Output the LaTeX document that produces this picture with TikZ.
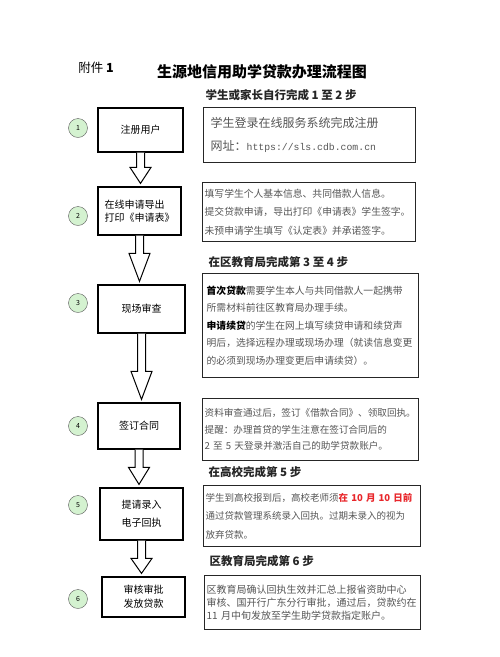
\documentclass[tikz,border=0pt]{standalone}
\usepackage{fontspec}
\setmainfont{Noto Sans CJK SC}
\newfontfamily\urlfont{Liberation Mono}
\usetikzlibrary{calc, positioning}
\definecolor{notegray}{HTML}{555555}
\definecolor{numgreen}{HTML}{D4F2D0}
\definecolor{hlred}{HTML}{E8262B}

\begin{document}
\begin{tikzpicture}[
    x=1pt, y=-1pt, % coordinates in pixels, y going down
    stepbox/.style={
      rectangle,
      draw=black,
      line width=1.2pt,
      align=center,
      inner sep=2pt,
      font=\fontsize{10}{13}\selectfont
    },
    note/.style={
      rectangle,
      draw=black!85,
      line width=1.3pt,
      anchor=north west,
      align=left,
      inner xsep=2pt,
      inner ysep=0pt,
      text=notegray,
      font=\fontsize{9.8}{18.5}\selectfont
    },
    num/.style={
      circle,
      draw=black!65,
      fill=numgreen,
      minimum size=19pt,
      inner sep=0pt,
      font=\fontsize{7}{7}\selectfont
    },
    stage/.style={
      anchor=west,
      text=black!85,
      font=\fontsize{11.5}{12}\selectfont\bfseries
    },
    bigarrow/.style={
      fill=white,
      draw=black,
      line width=1pt,
      to path={let \p1=(\tikztostart), \p2=(\tikztotarget) in
        (\x1-4pt,\y1) -- (\x1-4pt,\y2+3pt+#1) -- (\x1-10.5pt,\y2+3pt+#1)
        -- (\x1,\y2+3pt) -- (\x1+10.5pt,\y2+3pt+#1) -- (\x1+4pt,\y2+3pt+#1)
        -- (\x1+4pt,\y1)}
    },
    bigarrow/.default=16pt
  ]

  \path[use as bounding box] (0,0) rectangle (500,657);

  % Title
  \node[font=\fontsize{12.5}{13}\selectfont] (annex) at (96,68) {附件 \textbf{1}};
  \node[font=\fontsize{15}{16}\selectfont\bfseries] (title) at (262,72) {生源地信用助学贷款办理流程图};

  % Step boxes - left column
  \node[stepbox, minimum width=85pt, minimum height=44pt] (reg) at (140.5,130) {注册用户};
  \node[stepbox, align=left, minimum width=83pt, minimum height=48pt] (apply) at (139.5,211) {在线申请导出\\打印《申请表》};
  \node[stepbox, minimum width=87pt, minimum height=48pt] (check) at (141.5,309) {现场审查};
  \node[stepbox, minimum width=82pt, minimum height=46pt] (sign) at (139,426) {签订合同};
  \node[stepbox, font=\fontsize{10}{18}\selectfont, minimum width=83pt, minimum height=52pt] (receipt) at (141.5,514) {提请录入\\电子回执};
  \node[stepbox, font=\fontsize{10}{14}\selectfont, minimum width=83pt, minimum height=40pt] (grant) at (143.5,597) {审核审批\\发放贷款};

  % Step numbers
  \node[num] (n1) at (78,128) {1};
  \node[num] (n2) at (78,216) {2};
  \node[num] (n3) at (78,303) {3};
  \node[num] (n4) at (78,426) {4};
  \node[num] (n5) at (78,505) {5};
  \node[num] (n6) at (78,599) {6};

  % Stage headings
  \node[stage] (stage1) at (202,95) {学生或家长自行完成 1 至 2 步};
  \node[stage] (stage2) at (205,262) {在区教育局完成第 3 至 4 步};
  \node[stage] (stage3) at (205,472) {在高校完成第 5 步};
  \node[stage] (stage4) at (206,561) {区教育局完成第 6 步};

  % Notes - right column
  \node[note, inner xsep=7pt, text width=198pt, minimum height=55pt,
    font=\fontsize{12}{23}\selectfont] (regnote) at (203,107)
    {学生登录在线服务系统完成注册\\网址：{\urlfont\fontsize{9.8}{23}\selectfont https://sls.cdb.com.cn}};
  \node[note, text width=209pt, minimum height=59pt] (applynote) at (202,182)
    {填写学生个人基本信息、共同借款人信息。\\提交贷款申请，导出打印《申请表》学生签字。\\未预申请学生填写《认定表》并承诺签字。};
  \node[note, inner xsep=4pt, text width=208pt, minimum height=104pt,
    font=\fontsize{9.8}{17.5}\selectfont] (checknote) at (202,273)
    {{\color{black}\bfseries 首次贷款}需要学生本人与共同借款人一起携带\\所需材料前往区教育局办理手续。\\{\color{black}\bfseries 申请续贷}的学生在网上填写续贷申请和续贷声\\明后，选择远程办理或现场办理（就读信息变更\\的必须到现场办理变更后申请续贷）。};
  \node[note, text width=212pt, minimum height=62pt,
    font=\fontsize{9.6}{16.5}\selectfont] (signnote) at (202,398)
    {资料审查通过后，签订《借款合同》、领取回执。\\提醒：办理首贷的学生注意在签订合同后的\\2 至 5 天登录并激活自己的助学贷款账户。};
  \node[note, text width=213pt, minimum height=61pt,
    font=\fontsize{9.5}{18.5}\selectfont] (receiptnote) at (203,485)
    {学生到高校报到后，高校老师须{\color{hlred}\bfseries 在 10 月 10 日前}\\通过贷款管理系统录入回执。过期未录入的视为\\放弃贷款。};
  \node[note, text width=212pt, minimum height=54pt,
    font=\fontsize{10}{13}\selectfont] (grantnote) at (204,575)
    {区教育局确认回执生效并汇总上报省资助中心\\审核、国开行广东分行审批，通过后，贷款约在\\11 月中旬发放至学生助学贷款指定账户。};

  % Block arrows
  \draw[bigarrow] (reg.south) to (apply.north);
  \draw[bigarrow=28pt] (apply.south) to (check.north);
  \draw[bigarrow=28pt] (check.south) to (sign.north);
  \draw[bigarrow=17pt] (sign.south) to (receipt.north);
  \draw[bigarrow=15pt] (receipt.south) to (grant.north);

\end{tikzpicture}
\end{document}
